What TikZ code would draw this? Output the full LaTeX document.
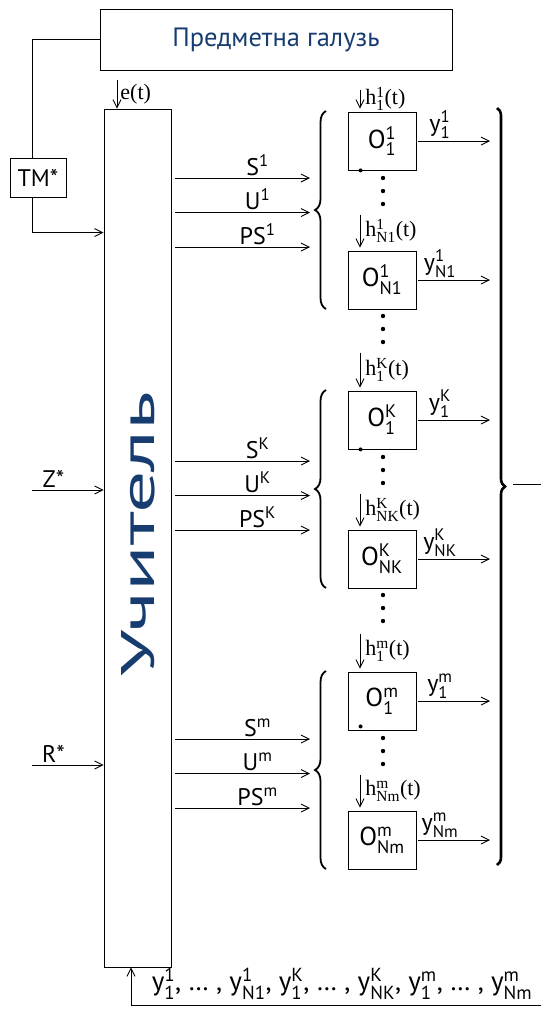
\documentclass[tikz,border=0pt]{standalone}
\usepackage{fontspec}
\usepackage{amsmath}
\setmainfont{Liberation Serif}
\newfontfamily\lab{PT Sans}
\usetikzlibrary{arrows.meta,decorations.pathreplacing,positioning,calc}
\definecolor{titleblue}{RGB}{23,61,112}
\newcommand{\idx}[2]{$^{\text{#1}}_{\text{#2}}$}
\newcommand{\lbl}{\fontsize{24}{26}\selectfont\lab}
\newcommand{\srf}{\fontsize{22}{24}\selectfont\rmfamily}

\begin{document}
\begin{tikzpicture}[x=1pt,y=-1pt,line width=0.9pt,
  box/.style={draw,minimum width=68pt,minimum height=58pt,inner sep=0pt,font=\fontsize{26}{28}\selectfont\lab},
  arr/.style={-{Straight Barb[length=8pt,width=8pt]}},
  brc/.style={decorate,decoration={brace,amplitude=11pt},line width=1.8pt},
  txt/.style={font=\lbl,inner sep=2pt}]
  \useasboundingbox (0,0) rectangle (541,1010);

  % domain, teacher, model
  \node[draw,minimum width=352pt,minimum height=61pt,text=titleblue,font=\fontsize{26.5}{28}\selectfont\lab] (domain) at (276,39.5) {Предметна галузь};
  \node[draw,minimum width=67pt,minimum height=858pt] (teach) at (137.5,538) {};
  \node[rotate=90,text=titleblue,inner sep=0pt] (tname) at (138,534) {\resizebox{285pt}{33pt}{\lab Учитель}};
  \node[draw,minimum width=56pt,minimum height=39pt,inner sep=0pt,font=\lbl] (tm) at (38,177.5) {TM*};
  \coordinate (tout) at ([xshift=4pt]teach.east);

  \draw (domain.west) -| ([xshift=-6pt]tm.north);
  \draw[arr] ([xshift=-6pt]tm.south) |- ([yshift=-124pt]teach.north west);

  % inputs of the teacher
  \coordinate (ein) at (117,80);
  \draw[arr] (ein) -- node[right,font=\srf,inner sep=3pt]{e(t)} (teach.north -| ein);
  \coordinate (zin) at (32,490);
  \coordinate (rin) at (32,765);
  \draw[arr] (zin) -- node[above,pos=.3,txt]{Z*} (teach.west |- zin);
  \draw[arr] (rin) -- node[above,pos=.3,txt]{R*} (teach.west |- rin);

  % groups of objects
  \foreach \g/\n/\b/\c/\hl/\dy in {1/N1/141/178/22/0,K/NK/420/461/38/0,m/Nm/701/739/38/4}{
    \node[box] (o1\g) at (382,\b) {O\idx{\g}{1}};
    \node[box] (oN\g) at (382,\b+139) {O\idx{\g}{\n}};
    \fill ([xshift=13pt,yshift=\dy pt]o1\g.south west) circle (2pt);
    \foreach \k in {37,50,63}
      \fill (383,\b+\k) circle (2.2pt);
    % disturbances
    \draw[arr] ([xshift=-22pt,yshift=\hl pt]o1\g.north) -- node[right,font=\srf,inner sep=5pt]{h\idx{\g}{1}(t)} ([xshift=-22pt,yshift=3pt]o1\g.north);
    \draw[arr] ([xshift=-22pt,yshift=36pt]oN\g.north) -- node[right,font=\srf,inner sep=5pt]{h\idx{\g}{\n}(t)} ([xshift=-22pt,yshift=3pt]oN\g.north);
    % outputs
    \coordinate (y1\g) at (490,\b);
    \coordinate (yN\g) at (490,\b+139);
    \draw[arr] ([xshift=2pt]o1\g.east) -- node[above,pos=.3,txt]{y\idx{\g}{1}} (y1\g);
    \draw[arr] ([xshift=2pt]oN\g.east) -- node[above,pos=.3,txt]{y\idx{\g}{\n}} (yN\g);
    % signals of the teacher
    \coordinate (s\g) at (310,\c);
    \coordinate (u\g) at (310,\c+34.5);
    \coordinate (p\g) at (310,\c+69);
    \draw[arr] (tout |- s\g) -- node[above,pos=.61,txt]{S\textsuperscript{\g}} (s\g);
    \draw[arr] (tout |- u\g) -- node[above,pos=.61,txt]{U\textsuperscript{\g}} (u\g);
    \draw[arr] (tout |- p\g) -- node[above,pos=.61,txt]{PS\textsuperscript{\g}} (p\g);
    \draw[brc] (326,\b+168) -- (326,\b-30);
  }
  \foreach \b in {141,420}
    \foreach \k in {175,188,201}
      \fill (383,\b+\k) circle (2.2pt);

  % all outputs back to the teacher
  \draw[brc,line width=2.6pt,decoration={brace,amplitude=8pt}] (497,108) -- (497,865);
  \coordinate (sumout) at (541,484);
  \draw ([xshift=-28pt]sumout) -- (sumout);
  \coordinate (fb) at (541,1005);
  \draw[arr] (fb) -| ([xshift=-6.5pt]teach.south);
  \node[txt,font=\fontsize{27}{29}\selectfont\lab] (ylist) at (342,984) {y\idx{1}{1}, \dots{} , y\idx{1}{N1}, y\idx{K}{1}, \dots{} , y\idx{K}{NK}, y\idx{m}{1}, \dots{} , y\idx{m}{Nm}};
\end{tikzpicture}
\end{document}
